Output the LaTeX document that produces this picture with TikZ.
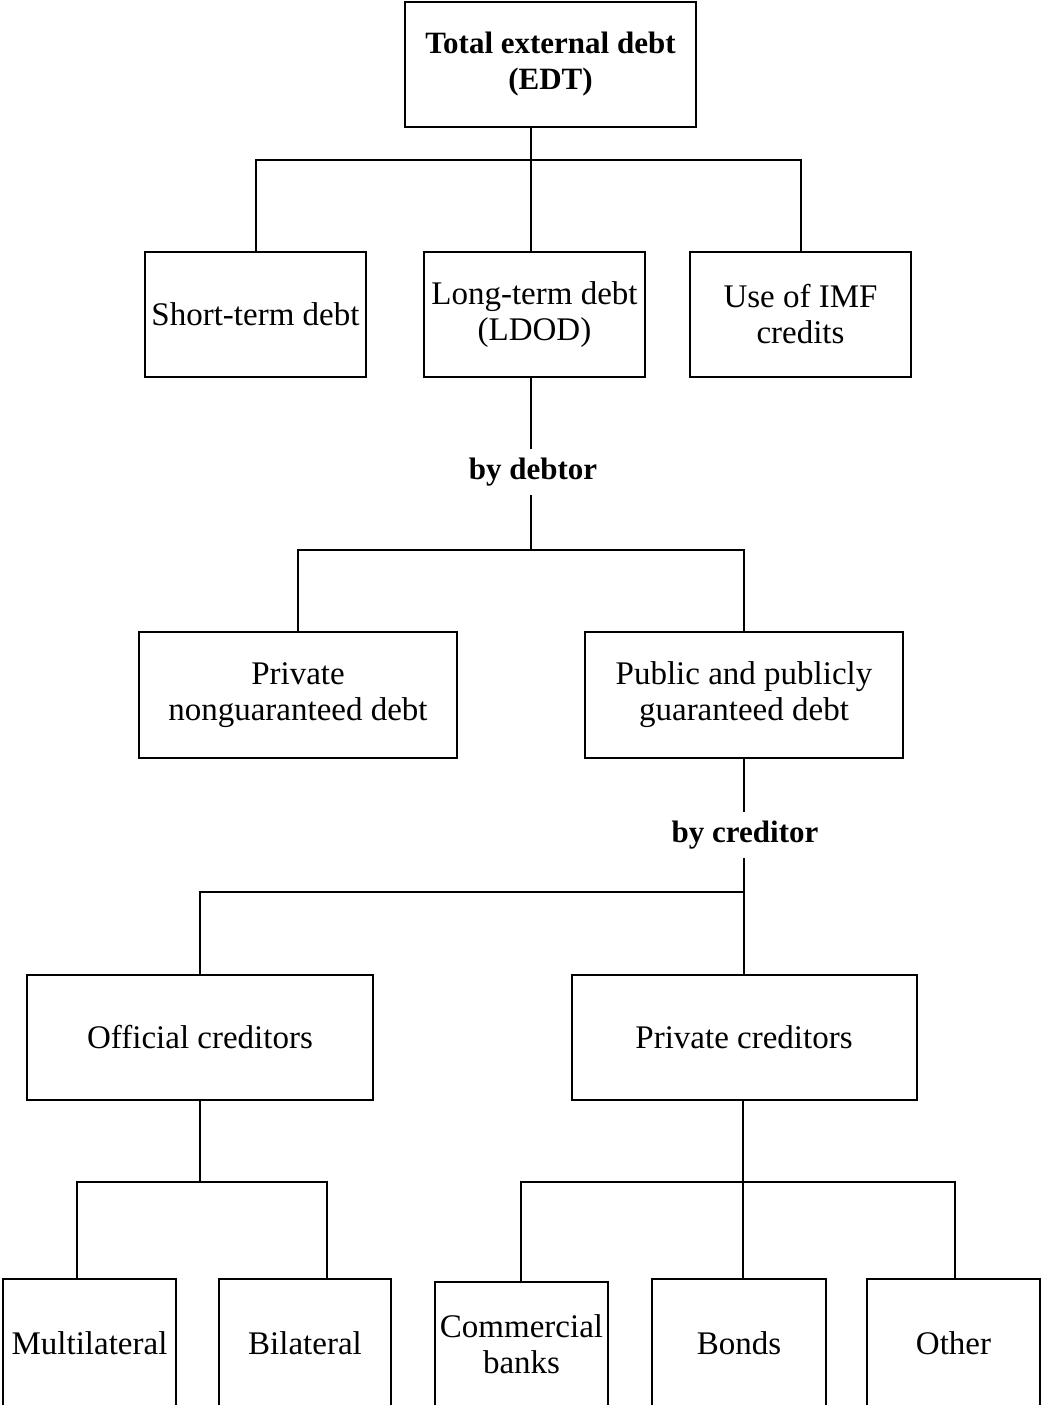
\documentclass[tikz,border=0pt]{standalone}
\usepackage{fontspec}
\setmainfont{Liberation Serif}
\usetikzlibrary{positioning}

\begin{document}
\begin{tikzpicture}[x=1pt, y=-1pt, line width=2pt,
    box/.style={draw, align=center, inner sep=0pt, minimum height=125pt,
      font=\fontsize{33}{36}\selectfont},
    lbl/.style={inner xsep=0pt, inner ysep=8pt, font=\bfseries\fontsize{31}{36}\selectfont}]
    \clip (0,0) rectangle (1042,1405);

    % top level
    \node[box, minimum width=291pt, font=\bfseries\fontsize{31}{36}\selectfont] (edt) at (550.5,64.5) {Total external debt\\(EDT)};
    \node[box, minimum width=221pt] (std) at (255.5,314.5) {Short-term debt};
    \node[box, minimum width=221pt] (ltd) at (534.5,314.5) {Long-term debt\\(LDOD)};
    \node[box, minimum width=221pt] (imf) at (800.5,314.5) {Use of IMF\\credits};

    \coordinate (j1) at (531,160);
    \draw (edt.south -| j1) -- (ltd.north -| j1);
    \draw (std.north) |- (j1) -| (imf.north);

    % by debtor
    \node[lbl] (bydebtor) at (533,472) {by debtor};
    \node[box, minimum width=318pt, minimum height=126pt] (png) at (298,695) {Private\\nonguaranteed debt};
    \node[box, minimum width=318pt, minimum height=126pt] (ppg) at (744,695) {Public and publicly\\guaranteed debt};

    \coordinate (j2) at (531,550);
    \draw (ltd.south -| j1) -- (bydebtor.north -| j1);
    \draw (bydebtor.south -| j2) -- (j2);
    \draw (png.north) |- (j2) -| (ppg.north);

    % by creditor
    \node[lbl] (bycreditor) at (745,835) {by creditor};
    \node[box, minimum width=346pt] (off) at (200,1037.5) {Official creditors};
    \node[box, minimum width=345pt] (prv) at (744,1037.5) {Private creditors};

    \coordinate (j3) at (744,892);
    \draw (ppg.south) -- (bycreditor.north -| ppg.south);
    \draw (bycreditor.south -| prv.north) -- (prv.north);
    \draw (off.north) |- (j3);

    % bottom level
    \node[box, minimum width=173pt, minimum height=128pt] (mul) at (89.5,1343) {Multilateral};
    \node[box, minimum width=172pt, minimum height=128pt] (bil) at (305,1343) {Bilateral};
    \node[box, minimum width=173pt, minimum height=125pt] (com) at (521.5,1344.5) {Commercial\\banks};
    \node[box, minimum width=174pt, minimum height=128pt] (bon) at (739,1343) {Bonds};
    \node[box, minimum width=173pt, minimum height=128pt] (oth) at (953.5,1343) {Other};

    \coordinate (t1) at (77,1182);
    \coordinate (t2) at (327,1182);
    \coordinate (t3) at (521,1182);
    \coordinate (t4) at (955,1182);
    \coordinate (t5) at (743,1182);
    \draw (off.south) -- (off.south |- t1);
    \draw (mul.north -| t1) |- (t2) -- (bil.north -| t2);
    \draw (com.north -| t3) |- (t4) -- (oth.north -| t4);
    \draw (prv.south -| t5) -- (bon.north -| t5);
\end{tikzpicture}
\end{document}
